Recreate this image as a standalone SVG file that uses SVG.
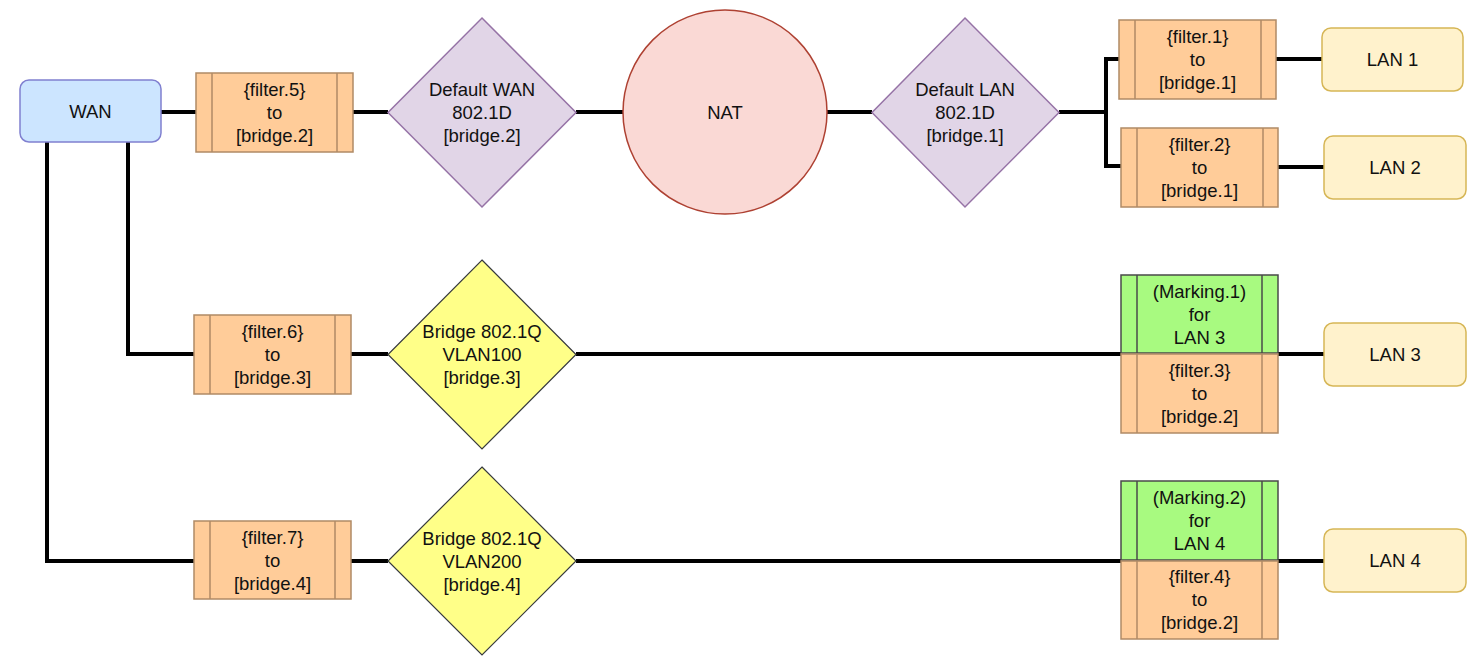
<svg xmlns="http://www.w3.org/2000/svg" width="1479" height="670" viewBox="0 0 1479 670">
<style>
text{font-family:"Liberation Sans",Arial,sans-serif;font-size:18.5px;fill:#111;text-anchor:middle}
.edge{fill:none;stroke:#000;stroke-width:4}
.proc{fill:#ffcc99;stroke:#b08a66;stroke-width:1.5}
.procl{stroke:#b08a66;stroke-width:1.5}
.mark{fill:#a8fa80;stroke:#4a4a4a;stroke-width:1.5}
.markl{stroke:#4a4a4a;stroke-width:1.5}
.lan{fill:#fff2cc;stroke:#d6b656;stroke-width:1.5}
.purple{fill:#e1d5e7;stroke:#9673a6;stroke-width:1.5}
.yellow{fill:#ffff88;stroke:#36393d;stroke-width:1.2}
</style>
<rect width="1479" height="670" fill="#fff"/>
<g id="connectors">
<path class="edge" d="M161 112H196"/>
<path class="edge" d="M353 112H388"/>
<path class="edge" d="M576 112H623"/>
<path class="edge" d="M827 112H872"/>
<path class="edge" d="M1059 112H1106V59H1119"/>
<path class="edge" d="M1106 112V166H1121"/>
<path class="edge" d="M1276 59H1322"/>
<path class="edge" d="M1278 167H1324"/>
<path class="edge" d="M128 142V354H194"/>
<path class="edge" d="M351 354H388"/>
<path class="edge" d="M576 354H1121"/>
<path class="edge" d="M1278 354H1324"/>
<path class="edge" d="M47 142V561H194"/>
<path class="edge" d="M351 561H388"/>
<path class="edge" d="M576 561H1121"/>
<path class="edge" d="M1278 561H1324"/>
</g>
<g id="wan"><rect x="20" y="80" width="141" height="62" rx="9" fill="#cce5ff" stroke="#8080d0" stroke-width="1.5"/><text x="90.5" y="118">WAN</text></g>
<g id="filter5"><rect class="proc" x="196" y="73" width="157" height="79"/><line class="procl" x1="212" y1="73" x2="212" y2="152"/><line class="procl" x1="337" y1="73" x2="337" y2="152"/><text x="274.5" y="96">{filter.5}</text><text x="274.5" y="119">to</text><text x="274.5" y="142">[bridge.2]</text></g>
<g id="defwan"><polygon class="purple" points="482,18 576,112.5 482,207 388,112.5"/><text x="482" y="96">Default WAN</text><text x="482" y="119">802.1D</text><text x="482" y="142">[bridge.2]</text></g>
<g id="nat"><circle cx="725" cy="112" r="102" fill="#fad9d5" stroke="#ae4132" stroke-width="1.5"/><text x="725" y="119">NAT</text></g>
<g id="deflan"><polygon class="purple" points="965,18 1059,112.5 965,207 872,112.5"/><text x="965" y="96">Default LAN</text><text x="965" y="119">802.1D</text><text x="965" y="142">[bridge.1]</text></g>
<g id="filter1"><rect class="proc" x="1119" y="20" width="157" height="79"/><line class="procl" x1="1135" y1="20" x2="1135" y2="99"/><line class="procl" x1="1261" y1="20" x2="1261" y2="99"/><text x="1197.5" y="43">{filter.1}</text><text x="1197.5" y="66">to</text><text x="1197.5" y="89">[bridge.1]</text></g>
<g id="filter2"><rect class="proc" x="1121" y="128" width="157" height="79"/><line class="procl" x1="1137" y1="128" x2="1137" y2="207"/><line class="procl" x1="1263" y1="128" x2="1263" y2="207"/><text x="1199.5" y="151">{filter.2}</text><text x="1199.5" y="174">to</text><text x="1199.5" y="197">[bridge.1]</text></g>
<g id="lan1"><rect class="lan" x="1322" y="28" width="141" height="63" rx="9"/><text x="1392.5" y="66">LAN 1</text></g>
<g id="lan2"><rect class="lan" x="1324" y="136" width="142" height="63" rx="9"/><text x="1395" y="174">LAN 2</text></g>
<g id="filter6"><rect class="proc" x="194" y="315" width="157" height="79"/><line class="procl" x1="210" y1="315" x2="210" y2="394"/><line class="procl" x1="335" y1="315" x2="335" y2="394"/><text x="272.5" y="338">{filter.6}</text><text x="272.5" y="361">to</text><text x="272.5" y="384">[bridge.3]</text></g>
<g id="vlan100"><polygon class="yellow" points="482,260 576,354.5 482,449 388,354.5"/><text x="482" y="338">Bridge 802.1Q</text><text x="482" y="361">VLAN100</text><text x="482" y="384">[bridge.3]</text></g>
<g id="marking1"><rect class="mark" x="1121" y="275" width="157" height="78"/><line class="markl" x1="1137" y1="275" x2="1137" y2="353"/><line class="markl" x1="1262" y1="275" x2="1262" y2="353"/><text x="1199.5" y="298">(Marking.1)</text><text x="1199.5" y="321">for</text><text x="1199.5" y="344">LAN 3</text></g>
<g id="filter3"><rect class="proc" x="1121" y="354" width="157" height="79"/><line class="procl" x1="1137" y1="354" x2="1137" y2="433"/><line class="procl" x1="1262" y1="354" x2="1262" y2="433"/><text x="1199.5" y="377">{filter.3}</text><text x="1199.5" y="400">to</text><text x="1199.5" y="423">[bridge.2]</text></g>
<g id="lan3"><rect class="lan" x="1324" y="323" width="142" height="63" rx="9"/><text x="1395" y="361">LAN 3</text></g>
<g id="filter7"><rect class="proc" x="194" y="521" width="157" height="78"/><line class="procl" x1="210" y1="521" x2="210" y2="599"/><line class="procl" x1="335" y1="521" x2="335" y2="599"/><text x="272.5" y="544">{filter.7}</text><text x="272.5" y="567">to</text><text x="272.5" y="590">[bridge.4]</text></g>
<g id="vlan200"><polygon class="yellow" points="482,467 576,561 482,655 388,561"/><text x="482" y="545">Bridge 802.1Q</text><text x="482" y="568">VLAN200</text><text x="482" y="591">[bridge.4]</text></g>
<g id="marking2"><rect class="mark" x="1121" y="481" width="157" height="79"/><line class="markl" x1="1137" y1="481" x2="1137" y2="560"/><line class="markl" x1="1262" y1="481" x2="1262" y2="560"/><text x="1199.5" y="504">(Marking.2)</text><text x="1199.5" y="527">for</text><text x="1199.5" y="550">LAN 4</text></g>
<g id="filter4"><rect class="proc" x="1121" y="561" width="157" height="78"/><line class="procl" x1="1137" y1="561" x2="1137" y2="639"/><line class="procl" x1="1262" y1="561" x2="1262" y2="639"/><text x="1199.5" y="583">{filter.4}</text><text x="1199.5" y="606">to</text><text x="1199.5" y="629">[bridge.2]</text></g>
<g id="lan4"><rect class="lan" x="1324" y="529" width="142" height="63" rx="9"/><text x="1395" y="567">LAN 4</text></g>
</svg>
